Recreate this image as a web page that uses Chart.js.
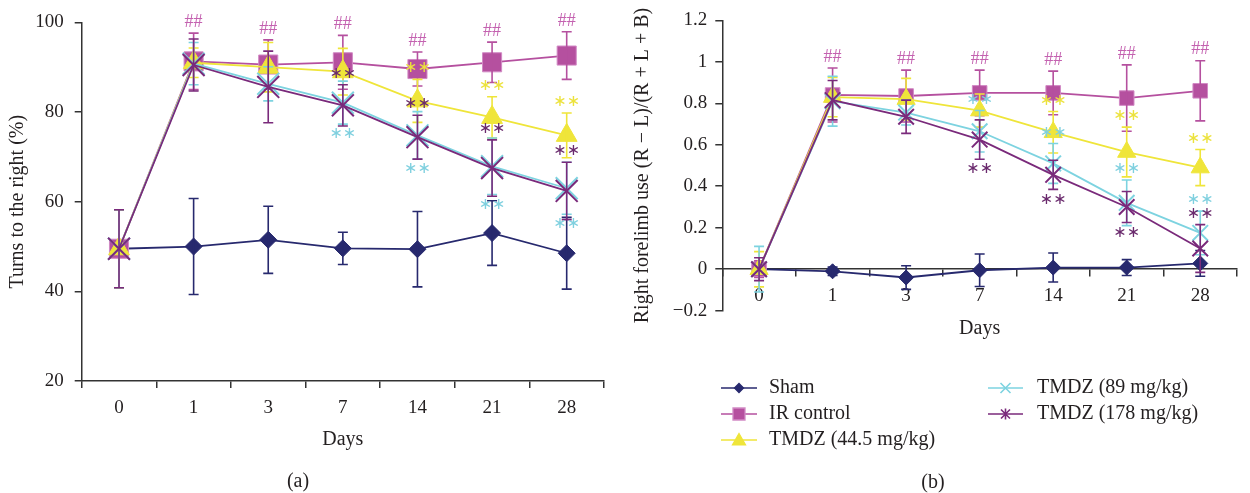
<!DOCTYPE html>
<html><head><meta charset="utf-8">
<script src="https://cdn.jsdelivr.net/npm/chart.js@4.4.1/dist/chart.umd.min.js"></script>
<style>
html,body{margin:0;padding:0;background:#fff;}
#wrap{position:relative;width:1250px;height:493px;overflow:hidden;background:#fff;}
canvas{position:absolute;top:0;}
#cA{left:0;} #cB{left:625px;}
</style></head><body>
<div id="wrap"><canvas id="cA" width="625" height="493"></canvas><canvas id="cB" width="625" height="493"></canvas></div>
<script>
// ---------- data ----------
const days = ['0', '1', '3', '7', '14', '21', '28'];
const seriesNames = ['Sham', 'IR control', 'TMDZ (44.5 mg/kg)', 'TMDZ (89 mg/kg)', 'TMDZ (178 mg/kg)'];

// (a) Turns to the right (%)
const turnsSham    = [49.5, 50.0, 51.5, 49.6, 49.4, 53.0, 48.5];
const turnsShamErr = [8.7, 10.7, 7.5, 3.6, 8.4, 7.2, 8.0];
const turnsIR      = [49.5, 91.3, 90.6, 91.1, 89.6, 91.1, 92.6];
const turnsIRErr   = [8.7, 6.3, 5.5, 6.0, 3.8, 4.5, 5.3];
const turnsT44     = [49.5, 91.0, 90.0, 89.0, 82.5, 78.8, 74.8];
const turnsT44Err  = [8.7, 3.3, 5.5, 5.2, 4.8, 4.6, 5.0];
const turnsT89     = [49.5, 90.8, 86.3, 82.1, 74.8, 67.9, 63.0];
const turnsT89Err  = [8.7, 4.7, 3.8, 4.8, 5.3, 6.3, 5.8];
const turnsT178    = [49.5, 90.5, 85.6, 81.5, 74.4, 67.5, 62.4];
const turnsT178Err = [8.7, 5.8, 8.0, 4.6, 4.9, 6.3, 6.4];
const turnsTicks   = ['20', '40', '60', '80', '100'];
// significance marks (a): '' none, 'above' / 'below' the error bar
const turnsMarkSham = ['', '', '', '', '', '', ''];
const turnsMarkIR   = ['', 'above', 'above', 'above', 'above', 'above', 'above'];
const turnsMarkT44  = ['', '', '', '', 'above', 'above', 'above'];
const turnsMarkT89  = ['', '', '', 'below', 'below', 'below', 'below'];
const turnsMarkT178 = ['', '', '', 'above', 'above', 'above', 'above'];

// (b) Right forelimb use (R - L)/(R + L + B)
const limbSham    = [0, -0.01, -0.04, -0.005, 0.008, 0.008, 0.028];
const limbShamErr = [0, 0.02, 0.057, 0.078, 0.07, 0.038, 0.062];
const limbIR      = [0, 0.84, 0.835, 0.85, 0.85, 0.825, 0.86];
const limbIRErr   = [0.04, 0.13, 0.125, 0.11, 0.105, 0.16, 0.145];
const limbT44     = [0, 0.83, 0.82, 0.765, 0.66, 0.565, 0.49];
const limbT44Err  = [0.085, 0.095, 0.10, 0.08, 0.10, 0.12, 0.087];
const limbT89     = [0, 0.81, 0.755, 0.665, 0.51, 0.32, 0.175];
const limbT89Err  = [0.11, 0.12, 0.06, 0.10, 0.096, 0.11, 0.105];
const limbT178    = [0, 0.815, 0.735, 0.625, 0.455, 0.30, 0.10];
const limbT178Err = [0.055, 0.095, 0.08, 0.095, 0.07, 0.075, 0.115];
const limbTicks   = ['\u22120.2', '0', '0.2', '0.4', '0.6', '0.8', '1', '1.2'];
const limbMarkSham = ['', '', '', '', '', '', ''];
const limbMarkIR   = ['', 'above', 'above', 'above', 'above', 'above', 'above'];
const limbMarkT44  = ['', '', '', '', 'above', 'above', 'above'];
const limbMarkT89  = ['', '', '', 'above', 'above', 'above', 'above'];
const limbMarkT178 = ['', '', '', 'below', 'below', 'below', 'above'];

// ---------- styles ----------
const TXT = '#231f20';
const lineColors   = ['#27296e', '#b5509f', '#efe53a', '#7dd3e0', '#7a2a7b'];
const fillColors   = ['#27296e', '#b5509f', '#efe53a', '#7dd3e0', '#7a2a7b'];
const pointBorders = ['#27296e', '#d28ac5', '#efe53a', '#7dd3e0', '#7a2a7b'];
const pointStyles  = ['rectRot', 'rect', 'triangle', 'crossRot', 'crossRot'];
const markColors   = ['#000', '#c462b0', '#ece23c', '#7fd0df', '#6a2a6d'];
const SERIF = '"Liberation Serif", "Times New Roman", serif';

Chart.defaults.font.family = SERIF;
Chart.defaults.font.size = 19;
Chart.defaults.color = TXT;

function buildDatasets(vals, errs, marks, radii) {
  return seriesNames.map((name, k) => ({
    label: name,
    data: vals[k],
    errors: errs[k],
    marks: marks[k],
    markText: k === 1 ? '##' : '\u2217\u2217',
    markFont: k === 1 ? '18px ' + SERIF : '16px "DejaVu Sans"',
    markColor: markColors[k],
    borderColor: lineColors[k],
    backgroundColor: fillColors[k],
    pointStyle: pointStyles[k],
    pointRadius: radii[k],
    pointHoverRadius: radii[k],
    pointBackgroundColor: fillColors[k],
    pointBorderColor: pointBorders[k],
    pointBorderWidth: k === 3 || k === 4 ? 2 : 1,
    borderWidth: 1.8,
    tension: 0,
    fill: false,
    order: 5 - k
  }));
}

// error bars drawn with each dataset
const errorBars = {
  id: 'errorBars',
  afterDatasetDraw(chart, args) {
    const ds = chart.data.datasets[args.index];
    if (!ds.errors) return;
    const ys = chart.scales.y, ctx = chart.ctx, cap = 5;
    ctx.save();
    ctx.strokeStyle = ds.borderColor;
    ctx.lineWidth = 1.6;
    args.meta.data.forEach((pt, i) => {
      const e = ds.errors[i];
      if (!e) return;
      const v = ds.data[i];
      const yt = ys.getPixelForValue(v + e), yb = ys.getPixelForValue(v - e);
      ctx.beginPath();
      ctx.moveTo(pt.x, yt); ctx.lineTo(pt.x, yb);
      ctx.moveTo(pt.x - cap, yt); ctx.lineTo(pt.x + cap, yt);
      ctx.moveTo(pt.x - cap, yb); ctx.lineTo(pt.x + cap, yb);
      ctx.stroke();
    });
    ctx.restore();
  }
};

// significance marks (## / **)
const sigMarks = {
  id: 'sigMarks',
  afterDatasetsDraw(chart) {
    const ys = chart.scales.y, ctx = chart.ctx;
    ctx.save();
    ctx.textAlign = 'center';
    ctx.textBaseline = 'middle';
    chart.data.datasets.forEach((ds, di) => {
      if (!ds.marks) return;
      const meta = chart.getDatasetMeta(di);
      ds.marks.forEach((m, i) => {
        if (!m) return;
        const v = ds.data[i], e = ds.errors[i] || 0;
        const py = m === 'above' ? ys.getPixelForValue(v + e) - 11 : ys.getPixelForValue(v - e) + 10;
        ctx.font = ds.markFont;
        ctx.fillStyle = ds.markColor;
        ctx.fillText(ds.markText, meta.data[i].x, py);
      });
    });
    ctx.restore();
  }
};

// panel label (a)/(b)
const panelLabel = {
  id: 'panelLabel',
  afterDraw(chart, args, opts) {
    const ctx = chart.ctx;
    ctx.save();
    ctx.font = '20px ' + SERIF;
    ctx.fillStyle = TXT;
    ctx.textAlign = 'center';
    ctx.textBaseline = 'middle';
    ctx.fillText(opts.text, opts.x, opts.y);
    ctx.restore();
  }
};

function drawMarker(ctx, style, x, y, r, fill, stroke) {
  ctx.save();
  ctx.fillStyle = fill; ctx.strokeStyle = stroke; ctx.lineWidth = 1.3;
  ctx.beginPath();
  if (style === 'rectRot') {
    ctx.moveTo(x - r, y); ctx.lineTo(x, y - r); ctx.lineTo(x + r, y); ctx.lineTo(x, y + r); ctx.closePath();
    ctx.fill(); ctx.stroke();
  } else if (style === 'rect') {
    ctx.rect(x - r, y - r, 2 * r, 2 * r); ctx.fill(); ctx.stroke();
  } else if (style === 'triangle') {
    ctx.moveTo(x, y - r); ctx.lineTo(x + r, y + r * 0.75); ctx.lineTo(x - r, y + r * 0.75); ctx.closePath();
    ctx.fill(); ctx.stroke();
  } else {
    ctx.lineWidth = 1.6;
    ctx.moveTo(x - r, y - r); ctx.lineTo(x + r, y + r);
    ctx.moveTo(x - r, y + r); ctx.lineTo(x + r, y - r);
    if (style === 'star') { ctx.moveTo(x, y - r * 1.2); ctx.lineTo(x, y + r * 1.2); }
    ctx.stroke();
  }
  ctx.restore();
}

// two-column legend under panel (b)
const colLegend = {
  id: 'colLegend',
  afterDraw(chart) {
    const ctx = chart.ctx;
    const cols = [{x0: 96, x1: 132, tx: 144}, {x0: 363, x1: 398, tx: 412}];
    const rowsY = [388, 414, 440];
    const place = [[0, 0], [0, 1], [0, 2], [1, 0], [1, 1]];
    const legendStyles = ['rectRot', 'rect', 'triangle', 'crossRot', 'star'];
    const legendR = [4.5, 6, 6.5, 5, 4.5];
    chart.data.datasets.forEach((ds, k) => {
      const c = cols[place[k][0]], y = rowsY[place[k][1]];
      ctx.save();
      ctx.strokeStyle = ds.borderColor; ctx.lineWidth = 1.6;
      ctx.beginPath(); ctx.moveTo(c.x0, y); ctx.lineTo(c.x1, y); ctx.stroke();
      ctx.restore();
      drawMarker(ctx, legendStyles[k], (c.x0 + c.x1) / 2, y, legendR[k], ds.pointBackgroundColor, ds.pointBorderColor);
      ctx.save();
      ctx.font = '20px ' + SERIF; ctx.fillStyle = TXT;
      ctx.textAlign = 'left'; ctx.textBaseline = 'middle';
      ctx.fillText(ds.label, c.tx, y);
      ctx.restore();
    });
  }
};

const axisLine = {color: '#333', width: 1.5};

// ---------- chart (a) ----------
new Chart(document.getElementById('cA'), {
  type: 'line',
  data: {
    labels: days,
    datasets: buildDatasets(
      [turnsSham, turnsIR, turnsT44, turnsT89, turnsT178],
      [turnsShamErr, turnsIRErr, turnsT44Err, turnsT89Err, turnsT178Err],
      [turnsMarkSham, turnsMarkIR, turnsMarkT44, turnsMarkT89, turnsMarkT178],
      [8.5, 13.5, 12, 15.5, 15.5])
  },
  options: {
    responsive: false, animation: false, devicePixelRatio: 1,
    layout: {padding: {left: 0, right: 21, top: 19, bottom: 41}},
    plugins: {legend: {display: false}, tooltip: {enabled: false},
              panelLabel: {text: '(a)', x: 298, y: 482}},
    scales: {
      x: {
        type: 'category', offset: true,
        grid: {offset: true, drawOnChartArea: false, tickLength: 7, color: '#333', lineWidth: 1.5},
        border: axisLine,
        ticks: {padding: 8.6, maxRotation: 0, autoSkip: false},
        title: {display: true, text: 'Days', font: {size: 20}, padding: 0},
        afterFit(s) { s.height = 71; }
      },
      y: {
        type: 'linear', min: 20, max: 100,
        grid: {drawOnChartArea: false, tickLength: 7, color: '#333', lineWidth: 1.5},
        border: axisLine,
        ticks: {stepSize: 20, padding: 11, callback: (v, i) => turnsTicks[i]},
        title: {display: true, text: 'Turns to the right (%)', font: {size: 20}, padding: {top: 6, bottom: 0}},
        afterFit(s) { s.width = 81.7; }
      }
    }
  },
  plugins: [errorBars, sigMarks, panelLabel]
});

// ---------- chart (b) ----------
new Chart(document.getElementById('cB'), {
  type: 'line',
  data: {
    labels: days,
    datasets: buildDatasets(
      [limbSham, limbIR, limbT44, limbT89, limbT178],
      [limbShamErr, limbIRErr, limbT44Err, limbT89Err, limbT178Err],
      [limbMarkSham, limbMarkIR, limbMarkT44, limbMarkT89, limbMarkT178],
      [7.5, 10.3, 10.5, 11, 11])
  },
  options: {
    responsive: false, animation: false, devicePixelRatio: 1,
    layout: {padding: {left: 0, right: 4, top: 20.3, bottom: 182.3}},
    plugins: {legend: {display: false}, tooltip: {enabled: false},
              panelLabel: {text: '(b)', x: 308, y: 483}},
    scales: {
      x: {
        type: 'category', offset: true, position: {y: 0},
        grid: {offset: true, drawOnChartArea: false, tickLength: 7, color: '#333', lineWidth: 1.5},
        border: axisLine,
        ticks: {padding: 8.6, maxRotation: 0, autoSkip: false},
        title: {display: true, text: 'Days', font: {size: 20}, padding: 0},
        afterFit(s) { s.height = 72; }
      },
      y: {
        type: 'linear', min: -0.2, max: 1.2,
        grid: {drawOnChartArea: false, tickLength: 7, color: '#333', lineWidth: 1.5},
        border: axisLine,
        ticks: {stepSize: 0.2, padding: 8, callback: (v, i) => limbTicks[i]},
        title: {display: true, text: 'Right forelimb use (R \u2212 L)/(R + L + B)', font: {size: 20}, padding: {top: 5.3, bottom: 0}},
        afterFit(s) { s.width = 97.3; }
      }
    }
  },
  plugins: [errorBars, sigMarks, panelLabel, colLegend]
});
</script>
</body></html>
